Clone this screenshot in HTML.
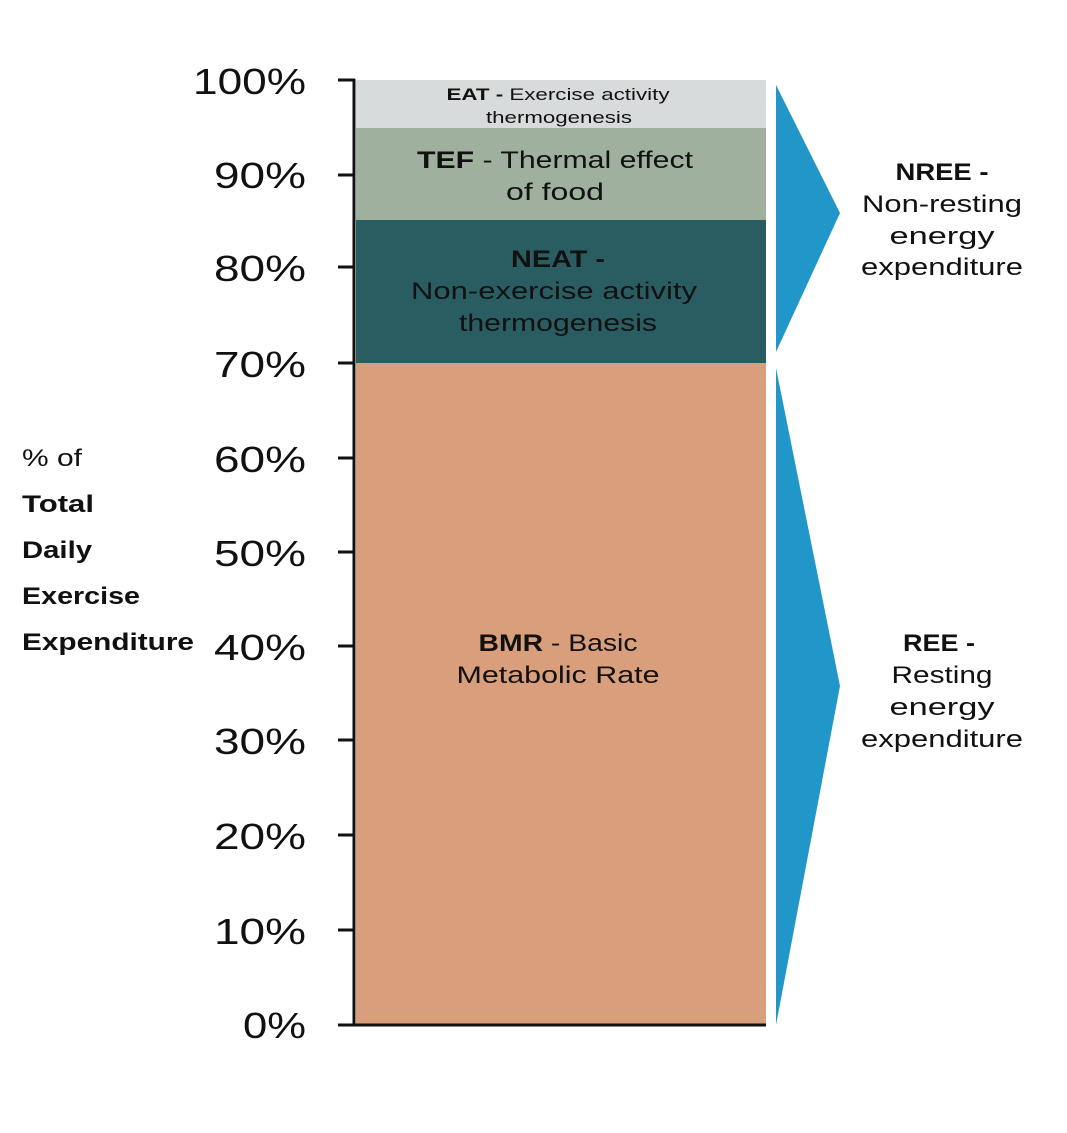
<!DOCTYPE html>
<html><head><meta charset="utf-8"><style>
html,body{margin:0;padding:0;background:#fff}
svg{display:block}
text{font-family:"Liberation Sans",sans-serif;fill:#111}
</style></head><body>
<svg width="1067" height="1133" viewBox="0 0 1067 1133" xmlns="http://www.w3.org/2000/svg">
<rect width="1067" height="1133" fill="#fff"/>
<rect x="356" y="80" width="410" height="48" fill="#d8dbdb"/>
<rect x="356" y="128" width="410" height="92" fill="#9fb09f"/>
<rect x="356" y="220" width="410" height="143" fill="#2a5d61"/>
<rect x="356" y="363" width="410" height="662" fill="#d99e7b"/>
<line x1="354" y1="79" x2="354" y2="1026" stroke="#111" stroke-width="3"/>
<g stroke="#111" stroke-width="3">
<line x1="338" y1="80" x2="355" y2="80"/><line x1="338" y1="175" x2="355" y2="175"/>
<line x1="338" y1="267" x2="355" y2="267"/><line x1="338" y1="363" x2="355" y2="363"/>
<line x1="338" y1="458" x2="355" y2="458"/><line x1="338" y1="552" x2="355" y2="552"/>
<line x1="338" y1="646" x2="355" y2="646"/><line x1="338" y1="740" x2="355" y2="740"/>
<line x1="338" y1="835" x2="355" y2="835"/><line x1="338" y1="930" x2="355" y2="930"/>
<line x1="338" y1="1025" x2="766" y2="1025"/>
</g>
<g font-size="36" text-anchor="end">
<text x="306" y="94" textLength="113" lengthAdjust="spacingAndGlyphs">100%</text>
<text x="306" y="188" textLength="92" lengthAdjust="spacingAndGlyphs">90%</text>
<text x="306" y="281" textLength="92" lengthAdjust="spacingAndGlyphs">80%</text>
<text x="306" y="377" textLength="92" lengthAdjust="spacingAndGlyphs">70%</text>
<text x="306" y="472" textLength="92" lengthAdjust="spacingAndGlyphs">60%</text>
<text x="306" y="566" textLength="92" lengthAdjust="spacingAndGlyphs">50%</text>
<text x="306" y="660" textLength="92" lengthAdjust="spacingAndGlyphs">40%</text>
<text x="306" y="754" textLength="92" lengthAdjust="spacingAndGlyphs">30%</text>
<text x="306" y="849" textLength="92" lengthAdjust="spacingAndGlyphs">20%</text>
<text x="306" y="944" textLength="92" lengthAdjust="spacingAndGlyphs">10%</text>
<text x="306" y="1038" textLength="63" lengthAdjust="spacingAndGlyphs">0%</text>
</g>
<g font-size="24">
<text x="22" y="466" textLength="60" lengthAdjust="spacingAndGlyphs">% of</text>
<text x="22" y="512" font-weight="bold" textLength="72" lengthAdjust="spacingAndGlyphs">Total</text>
<text x="22" y="558" font-weight="bold" textLength="70" lengthAdjust="spacingAndGlyphs">Daily</text>
<text x="22" y="604" font-weight="bold" textLength="118" lengthAdjust="spacingAndGlyphs">Exercise</text>
<text x="22" y="650" font-weight="bold" textLength="172" lengthAdjust="spacingAndGlyphs">Expenditure</text>
</g>
<g text-anchor="middle">
<text x="558" y="100" font-size="17" textLength="223" lengthAdjust="spacingAndGlyphs"><tspan font-weight="bold">EAT -</tspan> Exercise activity</text>
<text x="559" y="123" font-size="17" textLength="146" lengthAdjust="spacingAndGlyphs">thermogenesis</text>
<text x="555" y="168" font-size="24" textLength="276" lengthAdjust="spacingAndGlyphs"><tspan font-weight="bold">TEF</tspan> - Thermal effect</text>
<text x="555" y="200" font-size="24" textLength="98" lengthAdjust="spacingAndGlyphs">of food</text>
<text x="558" y="267" font-size="24" font-weight="bold" textLength="94" lengthAdjust="spacingAndGlyphs">NEAT -</text>
<text x="554" y="299" font-size="24" textLength="286" lengthAdjust="spacingAndGlyphs">Non-exercise activity</text>
<text x="558" y="331" font-size="24" textLength="198" lengthAdjust="spacingAndGlyphs">thermogenesis</text>
<text x="558" y="651" font-size="24" textLength="159" lengthAdjust="spacingAndGlyphs"><tspan font-weight="bold">BMR</tspan> - Basic</text>
<text x="558" y="683" font-size="24" textLength="203" lengthAdjust="spacingAndGlyphs">Metabolic Rate</text>
</g>
<polygon points="776,85 840,213 776,352" fill="#2196c9"/>
<polygon points="776,368 840,686 776,1025" fill="#2196c9"/>
<g text-anchor="middle" font-size="24">
<text x="942" y="180" font-weight="bold" textLength="93" lengthAdjust="spacingAndGlyphs">NREE -</text>
<text x="942" y="212" textLength="160" lengthAdjust="spacingAndGlyphs">Non-resting</text>
<text x="942" y="244" textLength="105" lengthAdjust="spacingAndGlyphs">energy</text>
<text x="942" y="275" textLength="162" lengthAdjust="spacingAndGlyphs">expenditure</text>
<text x="939" y="651" font-weight="bold" textLength="72" lengthAdjust="spacingAndGlyphs">REE -</text>
<text x="942" y="683" textLength="101" lengthAdjust="spacingAndGlyphs">Resting</text>
<text x="942" y="715" textLength="105" lengthAdjust="spacingAndGlyphs">energy</text>
<text x="942" y="747" textLength="162" lengthAdjust="spacingAndGlyphs">expenditure</text>
</g>
</svg>
</body></html>
